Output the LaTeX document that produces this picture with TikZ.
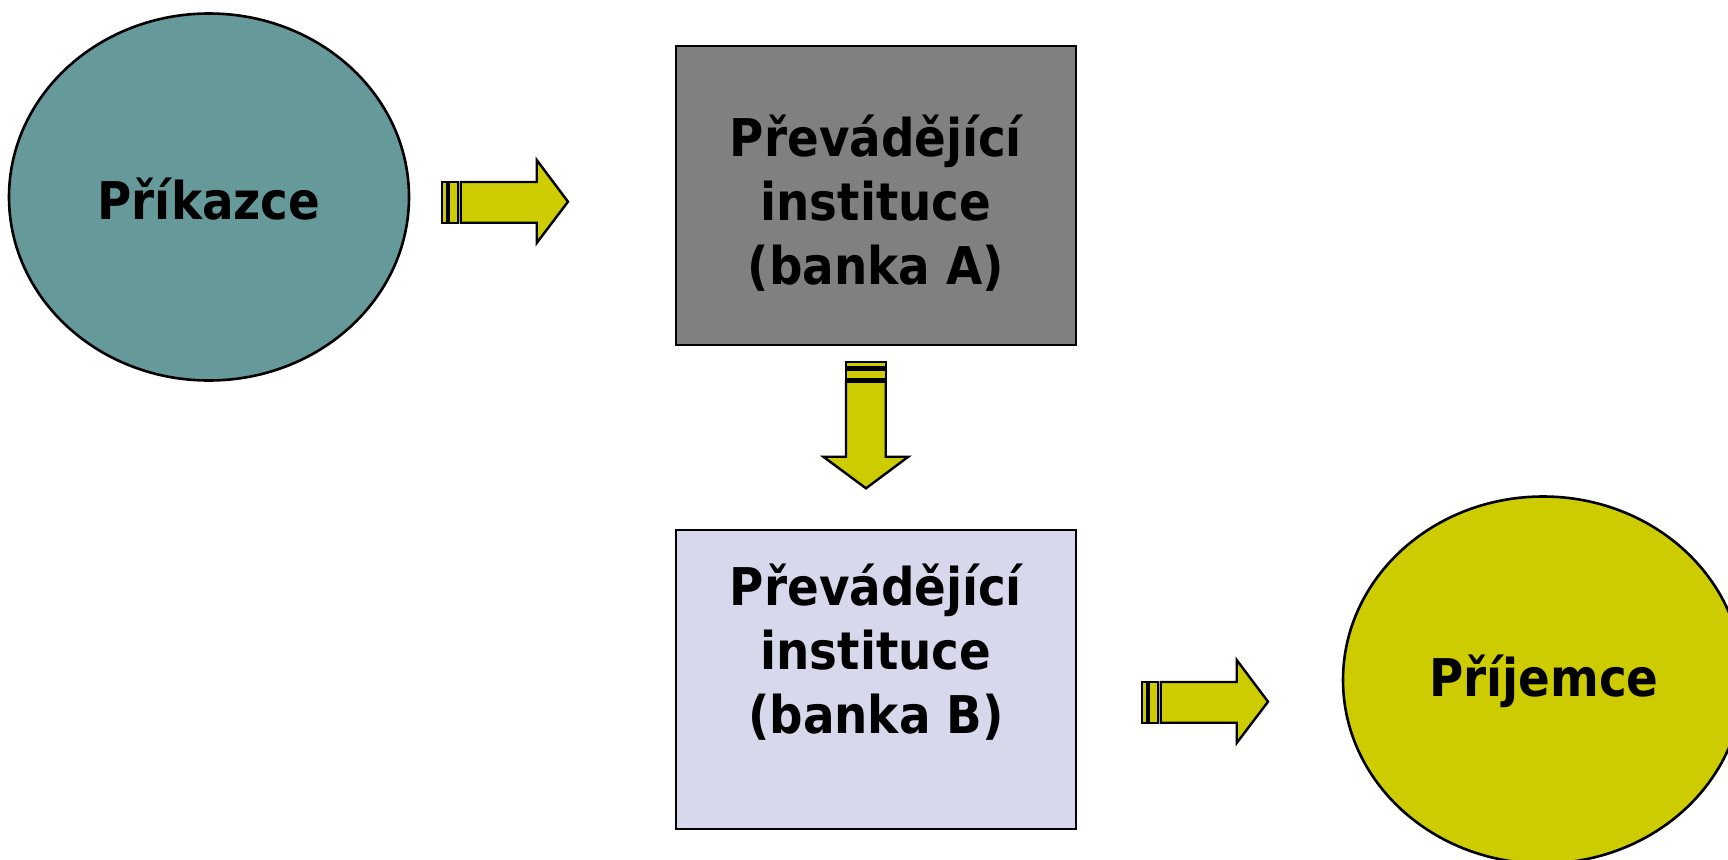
\documentclass[tikz,border=0pt]{standalone}
\usepackage{fontspec}
\setmainfont{DejaVu Sans Condensed}
\usetikzlibrary{shapes.geometric}
\definecolor{tealc}{HTML}{669999}
\definecolor{grayc}{HTML}{808080}
\definecolor{lavc}{HTML}{D8D8EC}
\definecolor{yelc}{HTML}{CCCC00}
\tikzset{
  lbl/.style={font=\fontsize{52}{64}\selectfont\bfseries, align=center, text=black, inner sep=0pt},
  oval/.style={ellipse, draw=black, line width=2.6pt, minimum width=400pt, minimum height=367pt, inner sep=0pt},
  box/.style={rectangle, draw=black, line width=2.8pt, minimum width=400pt, minimum height=299pt, inner sep=0pt},
  barrow/.style={draw=black, line width=2.4pt, fill=yelc, line join=miter}
}
\begin{document}
\begin{tikzpicture}[x=1pt,y=-1pt]
\useasboundingbox (0,0) rectangle (1728,859);
\clip (0,0) rectangle (1728,859);
\fill[white] (0,0) rectangle (1728,859);
% nodes
\node[oval, fill=tealc] (prik) at (209,197) {};
\node[lbl] (prikt) at (209,199) {Příkazce};
\node[box, fill=grayc] (bankA) at (876,195.5) {};
\node[lbl] (bankAt) at (876,203) {Převádějící\\instituce\\(banka A)};
\node[box, fill=lavc] (bankB) at (876,679.5) {};
\node[lbl] (bankBt) at (876,652) {Převádějící\\instituce\\(banka B)};
\node[oval, fill=yelc] (prij) at (1543,680) {};
\node[lbl] (prijt) at (1544,681) {Příjemce};
% arrow 1
\draw[barrow] (441.7,182) rectangle (446.7,222.7);
\draw[barrow] (449,182) rectangle (458,222.7);
\draw[barrow] (460.7,182) -- (536.7,182) -- (536.7,160) -- (568,201.7) -- (536.7,243) -- (536.7,222.7) -- (460.7,222.7) -- cycle;
% arrow 2
\draw[barrow] (846,361.7) rectangle (885.7,367.3);
\draw[barrow] (846,370) rectangle (885.7,379.3);
\draw[barrow] (846,381.7) -- (846,456.7) -- (823.3,456.7) -- (866,488.3) -- (908.3,456.7) -- (885.7,456.7) -- (885.7,381.7) -- cycle;
% arrow 3
\begin{scope}[shift={(700,500)}]
\draw[barrow] (441.7,182) rectangle (446.7,222.7);
\draw[barrow] (449,182) rectangle (458,222.7);
\draw[barrow] (460.7,182) -- (536.7,182) -- (536.7,160) -- (568,201.7) -- (536.7,243) -- (536.7,222.7) -- (460.7,222.7) -- cycle;
\end{scope}
\end{tikzpicture}
\end{document}
